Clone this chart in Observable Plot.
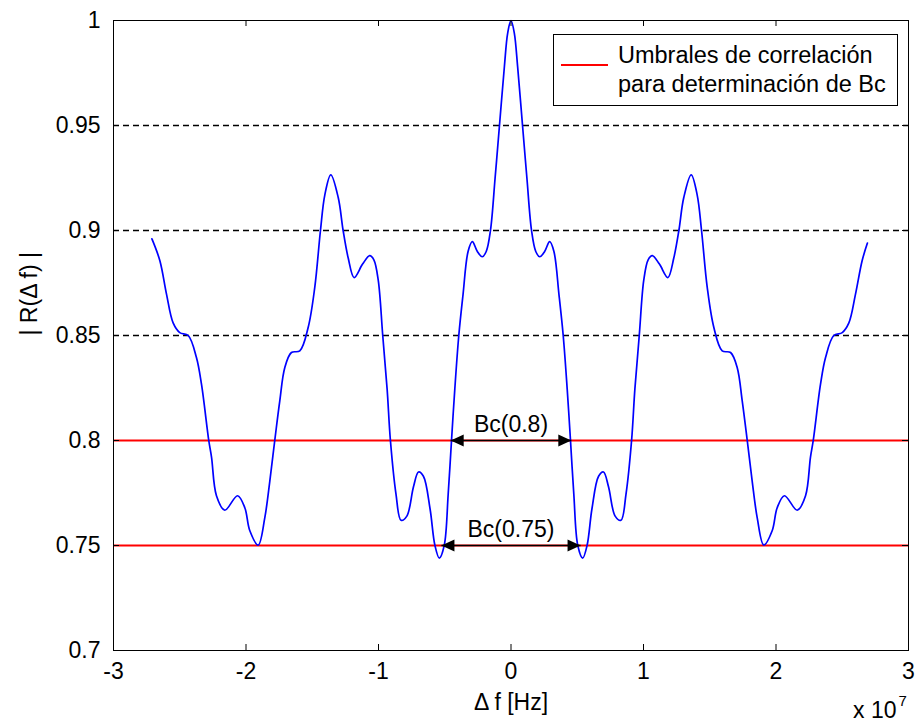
<!DOCTYPE html>
<html>
<head>
<meta charset="utf-8">
<script src="https://cdn.jsdelivr.net/npm/d3@7"></script>
<script src="https://cdn.jsdelivr.net/npm/@observablehq/plot@0.6"></script>
<style>
  html, body { margin: 0; padding: 0; background: #fff; }
  #wrap { position: relative; width: 918px; height: 728px; font-family: "Liberation Sans", Arial, sans-serif; color: #000; }
  #legend { position: absolute; left: 553px; top: 34px; width: 343px; height: 70px; background: #fff; border: 1px solid #000; }
  #legend .sw { position: absolute; left: 7px; top: 29px; width: 47px; height: 0; border-top: 2px solid #ff0000; }
  #legend .tx { position: absolute; left: 64px; top: 6px; font-size: 23.5px; line-height: 29px; white-space: nowrap; }
</style>
</head>
<body>
<div id="wrap">
  <div id="legend"><div class="sw"></div><div class="tx" id="legendText"></div></div>
</div>
<script>
// Frequency offset Δf in units of 1e7 Hz (axis shows "x 10^7")
const freq = [
  -2.71, -2.65, -2.6, -2.55, -2.5, -2.436, -2.374, -2.336, -2.281, -2.26,
  -2.223, -2.16, -2.064, -2.009, -1.971, -1.908, -1.858, -1.82, -1.783, -1.745,
  -1.707, -1.657, -1.594, -1.531, -1.481, -1.438, -1.405, -1.36, -1.304, -1.267,
  -1.229, -1.184, -1.12, -1.066, -1.035, -1.002, -0.968, -0.935, -0.91, -0.868,
  -0.83, -0.786, -0.736, -0.698, -0.661, -0.611, -0.574, -0.541, -0.504, -0.474,
  -0.449, -0.424, -0.394, -0.362, -0.324, -0.292, -0.254, -0.217, -0.187, -0.155,
  -0.12, -0.087, -0.05, -0.025,
  0,
  0.025, 0.05, 0.087, 0.12, 0.155, 0.187, 0.217, 0.254, 0.292, 0.324,
  0.362, 0.394, 0.424, 0.449, 0.474, 0.504, 0.541, 0.574, 0.611, 0.661,
  0.698, 0.736, 0.786, 0.83, 0.868, 0.91, 0.935, 0.968, 1.002, 1.035,
  1.066, 1.12, 1.184, 1.229, 1.267, 1.304, 1.36, 1.405, 1.438, 1.481,
  1.531, 1.594, 1.657, 1.707, 1.745, 1.783, 1.82, 1.858, 1.908, 1.971,
  2.009, 2.064, 2.16, 2.223, 2.26, 2.281, 2.336, 2.374, 2.436, 2.5,
  2.55, 2.6, 2.65, 2.69
];
// |R(Δf)| correlation magnitude
const corr = [
  0.896, 0.8856, 0.8697, 0.856, 0.8514, 0.85, 0.8395, 0.8268, 0.8, 0.792,
  0.7737, 0.7668, 0.7737, 0.768, 0.757, 0.7502, 0.7633, 0.7808, 0.8, 0.8189,
  0.8348, 0.8419, 0.8427, 0.8538, 0.8729, 0.9, 0.917, 0.9265, 0.9157, 0.9,
  0.887, 0.8776, 0.884, 0.888, 0.886, 0.8764, 0.85, 0.8246, 0.8, 0.7745,
  0.762, 0.764, 0.778, 0.785, 0.783, 0.7675, 0.75, 0.744, 0.75, 0.7745,
  0.8, 0.8246, 0.85, 0.8695, 0.89, 0.8947, 0.89, 0.8875, 0.89, 0.9,
  0.925, 0.95, 0.978, 0.994,
  1.0,
  0.994, 0.978, 0.95, 0.925, 0.9, 0.89, 0.8875, 0.89, 0.8947, 0.89,
  0.8695, 0.85, 0.8246, 0.8, 0.7745, 0.75, 0.744, 0.75, 0.7675, 0.783,
  0.785, 0.778, 0.764, 0.762, 0.7745, 0.8, 0.8246, 0.85, 0.8764, 0.886,
  0.888, 0.884, 0.8776, 0.887, 0.9, 0.9157, 0.9265, 0.917, 0.9, 0.8729,
  0.8538, 0.8427, 0.8419, 0.8348, 0.8189, 0.8, 0.7808, 0.7633, 0.7502, 0.757,
  0.768, 0.7737, 0.7668, 0.7737, 0.792, 0.8, 0.8268, 0.8395, 0.85, 0.8514,
  0.856, 0.8697, 0.8856, 0.894
];
const thresholdLevels = [0.8, 0.75];          // red lines
const dashedLevels = [0.85, 0.9, 0.95];        // black dashed lines
const bcHalfWidths = [0.455, 0.525];           // half coherence bandwidth (1e7 Hz)
const bcLabels = ["Bc(0.8)", "Bc(0.75)"];
const xTicks = [-3, -2, -1, 0, 1, 2, 3];
const yTicks = [0.7, 0.75, 0.8, 0.85, 0.9, 0.95, 1];
const xLabel = "\u0394 f [Hz]";
const yLabel = "| R(\u0394 f) |";
const xExpBase = "x 10";
const xExpPower = "7";
const legendLines = ["Umbrales de correlación", "para determinación de Bc"];

const W = 918, H = 728, ML = 113, MR = 10, MT = 20, MB = 78, TICK = 6;
const frameW = W - ML - MR, frameH = H - MT - MB;

const curve = freq.map((f, i) => ({f, r: corr[i]}));
const bcRows = thresholdLevels.map((level, i) => ({level, half: bcHalfWidths[i], label: bcLabels[i], center: 0}));
const bcHeads = bcRows.flatMap(d => [
  {f: -d.half, level: d.level, dir: 180},
  {f: d.half, level: d.level, dir: 0}
]);
const arrowHead = {
  draw(context) {
    context.moveTo(0, 0);
    context.lineTo(-13, -6);
    context.lineTo(-13, 6);
    context.closePath();
  }
};

const chart = Plot.plot({
  width: W,
  height: H,
  marginLeft: ML,
  marginRight: MR,
  marginTop: MT,
  marginBottom: MB,
  x: {domain: [-3, 3]},
  y: {domain: [0.7, 1]},
  style: {fontFamily: "'Liberation Sans', Arial, sans-serif", fontSize: "23px", color: "#000", background: "#fff"},
  marks: [
    Plot.ruleY(thresholdLevels, {stroke: "#ff0000", strokeWidth: 2}),
    Plot.ruleY(dashedLevels, {stroke: "#000", strokeWidth: 1.3, strokeDasharray: "6,4"}),
    Plot.line(curve, {x: "f", y: "r", stroke: "#0000ff", strokeWidth: 1.7, curve: "catmull-rom"}),
    Plot.link(bcRows, {x1: d => -d.half, x2: "half", y1: "level", y2: "level", stroke: "#000", strokeWidth: 1.6}),
    Plot.dot(bcHeads, {x: "f", y: "level", symbol: arrowHead, rotate: "dir", fill: "#000", stroke: null, r: 2}),
    Plot.text(bcRows, {x: "center", y: "level", text: "label", dy: -16, fontSize: 23, fill: "#000"}),
    // inward tick marks on all four sides
    Plot.tickX(xTicks, {x: d => d, insetTop: frameH - TICK, stroke: "#000"}),
    Plot.tickX(xTicks, {x: d => d, insetBottom: frameH - TICK, stroke: "#000"}),
    Plot.tickY(yTicks, {y: d => d, insetRight: frameW - TICK, stroke: "#000"}),
    Plot.tickY(yTicks, {y: d => d, insetLeft: frameW - TICK, stroke: "#000"}),
    // tick labels
    Plot.axisX({anchor: "bottom", ticks: xTicks, tickSize: 0, tickPadding: 12, tickFormat: d => String(d), label: null}),
    Plot.axisY({anchor: "left", ticks: yTicks, tickSize: 0, tickPadding: 13, tickFormat: d => String(+d.toFixed(2)), label: null}),
    Plot.frame({stroke: "#000"}),
    Plot.text([xLabel], {frameAnchor: "bottom", dy: 59, fontSize: 23, fill: "#000"}),
    Plot.text([yLabel], {frameAnchor: "left", dx: -84, rotate: -90, fontSize: 23, fill: "#000"}),
    Plot.text([xExpBase], {frameAnchor: "bottom-right", dx: -12, dy: 67, textAnchor: "end", fontSize: 23, fill: "#000"}),
    Plot.text([xExpPower], {frameAnchor: "bottom-right", dx: -10, dy: 55, textAnchor: "start", fontSize: 15, fill: "#000"})
  ]
});
const wrap = document.getElementById("wrap");
wrap.insertBefore(chart, wrap.firstChild);
document.getElementById("legendText").innerHTML = legendLines.join("<br>");
</script>
</body>
</html>
